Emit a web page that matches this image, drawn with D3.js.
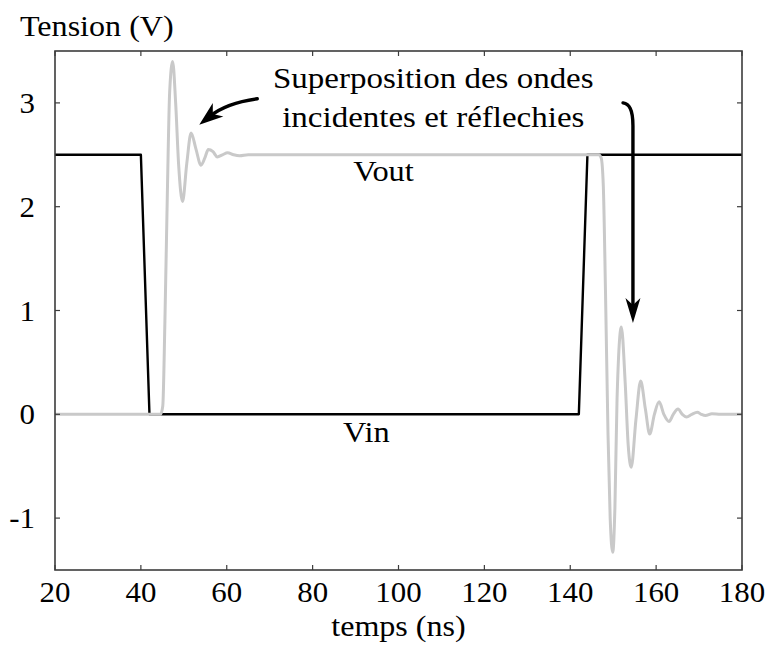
<!DOCTYPE html>
<html>
<head>
<meta charset="utf-8">
<script src="https://cdn.jsdelivr.net/npm/d3@7"></script>
</head>
<body style="margin:0">
<svg id="chart" width="766" height="645"></svg>
<script>
// Input step (black): time in ns, voltage in V
const vinTime  = [20, 40, 42, 142, 144, 180];
const vinValue = [2.5, 2.5, 0, 0, 2.5, 2.5];

// Line response (gray): incident + reflected waves with ringing
const voutTime  = [20, 44.6, 45.1, 45.6, 46.2, 46.7, 47.4, 48.1, 48.8, 49.7, 50.7, 51.7, 52.8, 54.0, 54.9,
                   55.7, 56.8, 57.8, 59.0, 60.2, 61.6, 63.0, 65.0, 146.6, 147.2, 147.7, 148.2, 148.8, 149.3,
                   149.9, 150.4, 150.9, 151.9, 152.8, 153.5, 154.2, 155.3, 156.4, 157.5, 158.5, 159.6, 160.7,
                   161.8, 163.0, 164.0, 165.1, 166.1, 167.1, 168.3, 169.6, 170.5, 171.5, 173.0, 175.0, 180];
const voutValue = [0, 0, 0.08, 0.9, 2.2, 3.1, 3.40, 3.0, 2.4, 2.05, 2.42, 2.71, 2.56, 2.40, 2.47,
                   2.55, 2.53, 2.48, 2.5, 2.52, 2.5, 2.49, 2.5, 2.5, 2.47, 2.2, 1.2, -0.2, -1.0,
                   -1.33, -0.9, 0.15, 0.84, 0.3, -0.3, -0.51, -0.05, 0.32, 0.05, -0.19, 0.0, 0.12,
                   0.0, -0.07, 0.0, 0.05, 0.0, -0.025, 0.0, 0.02, 0.0, -0.012, 0.005, 0, 0];

const xTicks = [20, 40, 60, 80, 100, 120, 140, 160, 180];
const yTicks = [-1, 0, 1, 2, 3];
const yTickLabels = ["-1", "0", "1", "2", "3"];

const svg = d3.select("#chart");
const x = d3.scaleLinear().domain([20, 180]).range([55, 742]);
const y = d3.scaleLinear().domain([-1.5, 3.5]).range([570, 51]);

// serif label; wide text gets a slight horizontal stretch
function label(sel, px, py, str, anchor, stretch) {
  const g = sel.append("g")
    .attr("transform", `translate(${px},${py}) scale(${stretch || 1},1)`);
  g.append("text")
    .attr("font-family", "Liberation Serif")
    .attr("font-size", 30)
    .attr("text-anchor", anchor || "start")
    .text(str);
}

const vin = vinTime.map((t, i) => [t, vinValue[i]]);
const vout = voutTime.map((t, i) => [t, voutValue[i]]);

// traces
svg.append("path")
  .datum(vin)
  .attr("fill", "none")
  .attr("stroke", "#000")
  .attr("stroke-width", 2.4)
  .attr("stroke-linejoin", "round")
  .attr("d", d3.line().x(d => x(d[0])).y(d => y(d[1])));

svg.append("path")
  .datum(vout)
  .attr("fill", "none")
  .attr("stroke", "#c9c9c9")
  .attr("stroke-width", 3)
  .attr("stroke-linejoin", "round")
  .attr("d", d3.line().x(d => x(d[0])).y(d => y(d[1])).curve(d3.curveMonotoneX));

// frame with inward ticks on all four sides
const frameColor = "#3c3c3c";
const tickLen = 5;
const axisG = svg.append("g");
axisG.append("rect")
  .attr("x", x(20)).attr("y", y(3.5))
  .attr("width", x(180) - x(20)).attr("height", y(-1.5) - y(3.5))
  .attr("fill", "none").attr("stroke", frameColor).attr("stroke-width", 1.6);

xTicks.forEach(t => {
  axisG.append("line").attr("x1", x(t)).attr("x2", x(t))
    .attr("y1", y(-1.5)).attr("y2", y(-1.5) - tickLen)
    .attr("stroke", frameColor).attr("stroke-width", 1.2);
  axisG.append("line").attr("x1", x(t)).attr("x2", x(t))
    .attr("y1", y(3.5)).attr("y2", y(3.5) + tickLen)
    .attr("stroke", frameColor).attr("stroke-width", 1.2);
  label(axisG, x(t), 602, String(t), "middle", 1.03);
});

yTicks.forEach((t, i) => {
  axisG.append("line").attr("x1", x(20)).attr("x2", x(20) + tickLen)
    .attr("y1", y(t)).attr("y2", y(t))
    .attr("stroke", frameColor).attr("stroke-width", 1.2);
  axisG.append("line").attr("x1", x(180)).attr("x2", x(180) - tickLen)
    .attr("y1", y(t)).attr("y2", y(t))
    .attr("stroke", frameColor).attr("stroke-width", 1.2);
  label(axisG, 35, y(t) + 10, yTickLabels[i], "end", 1.03);
});

// axis titles
label(svg, 20, 36, "Tension (V)", "start", 1.07);
label(svg, x(100), 636, "temps (ns)", "middle", 1.07);

// trace labels
label(svg, x(96.5), y(2.25), "Vout", "middle", 1.08);
label(svg, x(92.5), y(-0.27), "Vin", "middle", 1.08);

// annotation
label(svg, x(108.1), 88, "Superposition des ondes", "middle", 1.1);
label(svg, x(108.1), 127, "incidentes et réflechies", "middle", 1.1);

// arrowhead with a notched back, pointing along +x, tip at origin
function arrowHead(g, tx, ty, angleDeg, len, half) {
  g.append("path")
    .attr("d", `M0,0 L${-len},${-half} L${-len * 0.72},0 L${-len},${half} Z`)
    .attr("transform", `translate(${tx},${ty}) rotate(${angleDeg})`)
    .attr("fill", "#000");
}

const arrows = svg.append("g");
// left arrow: from the note towards the first ringing peak
const a1 = { x0: 67.1, y0: 3.04, cx: 60.0, cy: 3.0, x1: 53.6, y1: 2.79 };
{
  const p0 = [x(a1.x0), y(a1.y0)], c = [x(a1.cx), y(a1.cy)], p1 = [x(a1.x1), y(a1.y1)];
  const ang = Math.atan2(p1[1] - c[1], p1[0] - c[0]) * 180 / Math.PI;
  const back = 14;
  const rad = ang * Math.PI / 180;
  const end = [p1[0] - back * Math.cos(rad), p1[1] - back * Math.sin(rad)];
  arrows.append("path")
    .attr("d", `M${p0[0]},${p0[1]} Q${c[0]},${c[1]} ${end[0]},${end[1]}`)
    .attr("fill", "none").attr("stroke", "#000").attr("stroke-width", 3.4).attr("stroke-linecap", "round");
  arrowHead(arrows, p1[0], p1[1], ang, 24, 8.5);
}

// right arrow: hooks over and drops to the reflected ringing
const a2 = { x0: 152.3, y0: 3.0, xv: 154.6, yBend: 2.78, y1: 0.88 };
{
  const p0 = [x(a2.x0), y(a2.y0)];
  const xv = x(a2.xv), yb = y(a2.yBend), yt = y(a2.y1);
  arrows.append("path")
    .attr("d", `M${p0[0]},${p0[1]} C${p0[0] + 6},${p0[1] + 1} ${xv},${p0[1] + 6} ${xv},${yb} L${xv},${yt - 16}`)
    .attr("fill", "none").attr("stroke", "#000").attr("stroke-width", 3.4).attr("stroke-linecap", "round");
  arrowHead(arrows, xv, yt, 90, 25, 7.5);
}
</script>
</body>
</html>
